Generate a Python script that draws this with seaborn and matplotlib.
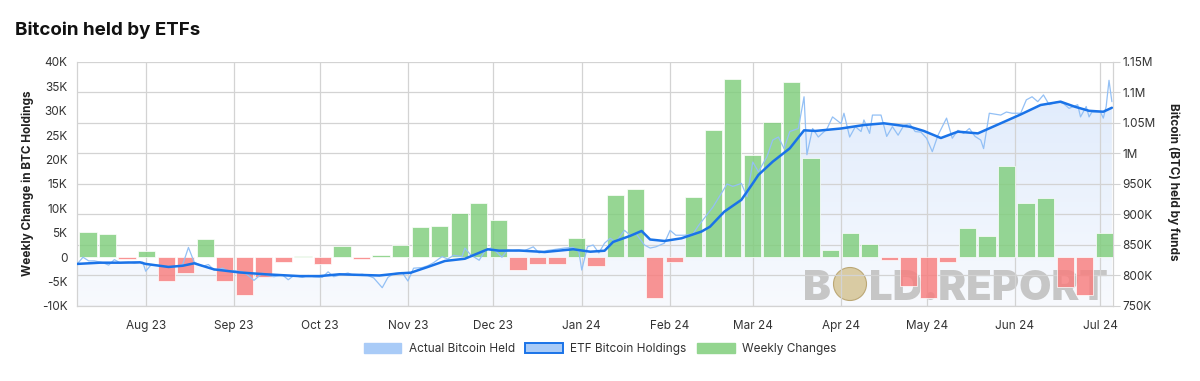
import matplotlib
matplotlib.use("Agg")
import matplotlib.pyplot as plt
import matplotlib.dates as mdates
import seaborn as sns
import numpy as np
import pandas as pd
from matplotlib.patches import Patch, Circle
from matplotlib.ticker import FuncFormatter, MultipleLocator
from matplotlib.colors import LinearSegmentedColormap

sns.set_theme(style="white")
plt.rcParams["font.family"] = ["Inter", "DejaVu Sans"]

# ---------------- data ----------------
week_labels = [f"{d:%d %b %y}" for d in pd.date_range("2023-07-03", periods=53, freq="W-MON")]
weekly_change = [5200, 4700, -400, 1200, -4900, -3200, 3800, -4900, -7800, -4100,
                 -900, 200, -1400, 2200, -400, 500, 2400, 6100, 6400, 9000,
                 11100, 7600, -2700, -1400, -1300, 3900, -1900, 12700, 14000, -8300,
                 -900, 12400, 26000, 36500, 21000, 27700, 35800, 20300, 1400, 4900,
                 2700, -500, -5900, -8300, -1000, 5900, 4400, 18700, 11100, 12200,
                 -6100, -7800, 4900]

etf_dates = ["2023-07-08", "2023-07-16", "2023-07-23", "2023-07-30", "2023-08-01", "2023-08-09",
             "2023-08-14", "2023-08-18", "2023-08-25", "2023-09-03", "2023-09-12", "2023-09-24",
             "2023-10-01", "2023-10-08", "2023-10-15", "2023-10-22", "2023-10-29", "2023-11-02",
             "2023-11-08", "2023-11-14", "2023-11-21", "2023-11-29", "2023-12-03", "2023-12-10",
             "2023-12-19", "2023-12-29", "2024-01-04", "2024-01-09", "2024-01-12", "2024-01-18",
             "2024-01-22", "2024-01-25", "2024-01-30", "2024-02-05", "2024-02-12", "2024-02-15",
             "2024-02-20", "2024-02-26", "2024-03-01", "2024-03-03", "2024-03-08", "2024-03-14",
             "2024-03-19", "2024-03-23", "2024-04-01", "2024-04-09", "2024-04-16", "2024-04-25",
             "2024-04-30", "2024-05-06", "2024-05-12", "2024-05-19", "2024-05-27", "2024-06-03",
             "2024-06-10", "2024-06-17", "2024-06-22", "2024-06-27", "2024-07-02", "2024-07-05"]
etf_holdings_k = [819, 821, 821, 821.6, 819, 814, 816, 820, 810, 805, 802, 799,
                  799, 802, 801, 800, 803.5, 804.6, 814, 823.8, 827.5, 843, 840.7, 841,
                  838.5, 843, 839, 840.6, 855, 865, 873, 859, 856.6, 861, 872, 880,
                  904.6, 924, 951, 965, 986.6, 1008.5, 1038, 1037, 1041, 1046.7, 1049.5, 1044,
                  1037, 1025.4, 1035.8, 1033, 1049.5, 1064, 1079.5, 1085, 1076.7, 1070, 1068.5, 1075]

actual_dates = ["2023-07-08", "2023-07-10", "2023-07-12", "2023-07-14", "2023-07-17", "2023-07-19",
                "2023-07-21", "2023-07-23", "2023-07-26", "2023-07-28", "2023-07-31",
                "2023-08-01", "2023-08-03", "2023-08-07", "2023-08-10", "2023-08-14", "2023-08-16",
                "2023-08-18", "2023-08-21", "2023-08-23", "2023-08-25", "2023-08-28", "2023-08-30",
                "2023-09-01", "2023-09-04", "2023-09-06", "2023-09-08", "2023-09-11", "2023-09-13",
                "2023-09-15", "2023-09-18", "2023-09-20", "2023-09-22", "2023-09-25", "2023-09-27",
                "2023-09-29", "2023-10-02", "2023-10-04", "2023-10-06", "2023-10-09", "2023-10-11",
                "2023-10-13", "2023-10-16", "2023-10-18", "2023-10-20", "2023-10-23", "2023-10-25",
                "2023-10-27", "2023-10-30", "2023-11-01", "2023-11-03", "2023-11-06", "2023-11-08",
                "2023-11-10", "2023-11-13", "2023-11-15", "2023-11-17", "2023-11-20", "2023-11-21",
                "2023-11-23", "2023-11-26", "2023-11-28", "2023-11-30", "2023-12-02", "2023-12-04",
                "2023-12-06", "2023-12-09", "2023-12-12", "2023-12-15", "2023-12-17", "2023-12-20",
                "2023-12-23", "2023-12-26", "2023-12-29", "2023-12-31", "2024-01-01", "2024-01-03",
                "2024-01-05", "2024-01-07", "2024-01-09", "2024-01-11", "2024-01-13", "2024-01-16",
                "2024-01-18", "2024-01-20", "2024-01-23", "2024-01-25", "2024-01-27", "2024-01-30",
                "2024-02-01", "2024-02-03", "2024-02-06", "2024-02-09", "2024-02-11", "2024-02-14",
                "2024-02-16", "2024-02-19", "2024-02-21", "2024-02-23", "2024-02-26", "2024-02-28",
                "2024-03-01", "2024-03-03", "2024-03-06", "2024-03-08", "2024-03-10", "2024-03-12",
                "2024-03-14", "2024-03-17", "2024-03-19", "2024-03-20", "2024-03-22", "2024-03-24",
                "2024-03-27", "2024-03-29", "2024-04-01", "2024-04-02", "2024-04-04", "2024-04-06",
                "2024-04-08", "2024-04-09", "2024-04-11", "2024-04-12", "2024-04-15", "2024-04-17",
                "2024-04-19", "2024-04-21", "2024-04-23", "2024-04-25", "2024-04-27", "2024-04-29",
                "2024-05-01", "2024-05-03", "2024-05-05", "2024-05-08", "2024-05-10", "2024-05-12",
                "2024-05-14", "2024-05-16", "2024-05-18", "2024-05-20", "2024-05-21", "2024-05-23",
                "2024-05-27", "2024-05-29", "2024-05-31", "2024-06-03", "2024-06-05", "2024-06-07",
                "2024-06-09", "2024-06-11", "2024-06-13", "2024-06-16", "2024-06-18", "2024-06-20",
                "2024-06-23", "2024-06-24", "2024-06-26", "2024-06-27", "2024-06-28", "2024-07-01",
                "2024-07-02", "2024-07-03", "2024-07-04", "2024-07-05"]
actual_held_k = [819, 830, 824, 824, 821, 817, 826, 821, 822, 820, 822,
                 807, 818, 816, 813, 818, 846, 822, 815, 818, 809, 812, 807,
                 808, 806, 800, 792, 804, 800, 798, 801, 793, 800, 797, 800,
                 798, 797, 806, 798, 802, 804, 800, 802, 800, 796, 780, 797,
                 803, 805, 791, 812, 813, 816, 821, 831, 827, 833, 831, 845,
                 834, 825, 840, 845, 839, 830, 842, 840, 841, 847, 837, 841,
                 843, 845, 846, 839, 809, 847, 850, 837, 853, 861, 855, 874,
                 866, 869, 850, 845, 847, 853, 874, 866, 866, 868, 882, 900,
                 912, 935, 950, 946, 951, 929, 986, 970, 995, 1022, 1027, 1008,
                 1036, 1041, 1093, 998, 1041, 1027, 1040, 1060, 1049, 1066, 1027, 1044,
                 1036, 1055, 1033, 1063, 1063, 1028, 1044, 1030, 1046, 1049, 1036, 1035,
                 1025, 1003, 1030, 1058, 1025, 1038, 1033, 1041, 1028, 1022, 1008, 1066,
                 1063, 1068, 1066, 1066, 1088, 1093, 1085, 1096, 1080, 1085, 1082, 1074,
                 1080, 1060, 1077, 1060, 1068, 1068, 1058, 1077, 1120, 1085]

# ---------------- styling ----------------
GREEN = "#7fcd7c"
RED = "#f87d7d"
BLUE = "#1a73e8"
LIGHT_BLUE = "#93c0f5"
GRID = "#d3d3d3"
TXT = "#333333"

df_bar = pd.DataFrame({"week": week_labels, "change": weekly_change})
df_bar["dir"] = np.where(df_bar["change"] >= 0, "up", "down")
df_etf = pd.DataFrame({"date": pd.to_datetime(etf_dates), "btc": np.array(etf_holdings_k) * 1000})
df_act = pd.DataFrame({"date": pd.to_datetime(actual_dates), "btc": np.array(actual_held_k) * 1000})

fig = plt.figure(figsize=(12, 3.81), dpi=100)
pos = [77 / 1200, (381 - 306) / 381, (1113 - 77) / 1200, (306 - 62) / 381]

x0 = mdates.date2num(pd.Timestamp("2023-08-01")) - 24.1
x1 = mdates.date2num(pd.Timestamp("2023-08-01")) + 339.4
Y2 = (750000, 1150000)

# base axes: dates + right axis, grid, area fill, watermark
ax = fig.add_axes(pos)
ax.set_facecolor("white")
xd = mdates.date2num(df_etf["date"])
poly = ax.fill_between(xd, df_etf["btc"], Y2[0], color="none", lw=0)
cmap = LinearSegmentedColormap.from_list("fillgrad", ["#f8fafe", "#e1ecfc"])
grad = np.linspace(0, 1, 256).reshape(-1, 1)
im = ax.imshow(grad, extent=[x0, x1, Y2[0], 1090000], origin="lower", aspect="auto",
               cmap=cmap, zorder=0.2)
im.set_clip_path(poly.get_paths()[0], transform=ax.transData)
ax.set_xlim(x0, x1)
ax.set_ylim(*Y2)
ax.xaxis.set_major_locator(mdates.MonthLocator(bymonthday=1))
ax.xaxis.set_major_formatter(mdates.DateFormatter("%b %y"))
ax.yaxis.set_major_locator(MultipleLocator(50000))


def fmt_right(v, _):
    if v >= 1e6:
        return f"{v / 1e6:g}M"
    return f"{v / 1e3:g}K"


ax.yaxis.set_major_formatter(FuncFormatter(fmt_right))
ax.yaxis.tick_right()
ax.yaxis.set_label_position("right")
ax.grid(True, color=GRID, lw=0.9)
ax.set_axisbelow(True)
ax.tick_params(axis="x", length=5, width=0.8, color=GRID, pad=5, labelsize=8.5, labelcolor=TXT)
ax.tick_params(axis="y", length=5, width=0.8, color=GRID, pad=2, labelsize=8.5, labelcolor=TXT,
               right=True, left=False)
for s in ["left", "bottom", "right"]:
    ax.spines[s].set_visible(True)
    ax.spines[s].set_color(GRID)
    ax.spines[s].set_linewidth(0.9)
ax.spines["top"].set_visible(False)

# watermark (behind grid and bars)
WM = "#c6c6c6"
ax.text(803 / 1200, 1 - 300 / 381, "B", fontsize=30, fontweight="black", color=WM,
        ha="left", va="baseline", transform=fig.transFigure, zorder=0.3)
ax.text(869 / 1200, 1 - 300 / 381, "LD.REPORT", fontsize=30, fontweight="black", color=WM,
        ha="left", va="baseline", transform=fig.transFigure, zorder=0.3)
ax.add_patch(Circle((850, 381 - 284), 16.5, transform=None, facecolor="#d9cba3",
                    edgecolor="#bba775", lw=0.8, zorder=0.35))

# bars axes
axb = fig.add_axes(pos)
axb.patch.set_alpha(0)
sns.barplot(data=df_bar, x="week", y="change", hue="dir", palette={"up": GREEN, "down": RED},
            dodge=False, width=0.88, saturation=1, alpha=0.82, edgecolor="white", linewidth=0.6,
            legend=False, ax=axb)
axb.set_xlim(-0.56, 52.45)
axb.set_ylim(-10000, 40000)
axb.yaxis.set_major_locator(MultipleLocator(5000))
axb.yaxis.set_major_formatter(FuncFormatter(lambda v, _: "0" if v == 0 else f"{v / 1000:g}K"))
axb.tick_params(axis="y", length=0, pad=7, labelsize=8.5, labelcolor=TXT)
axb.set_xticks([])
axb.set_xlabel("")
axb.set_ylabel("")
axb.grid(False)
for s in axb.spines.values():
    s.set_visible(False)

# lines axes
axl = fig.add_axes(pos)
axl.patch.set_alpha(0)
sns.lineplot(data=df_act, x="date", y="btc", color=LIGHT_BLUE, lw=0.9, ax=axl)
sns.lineplot(data=df_etf, x="date", y="btc", color=BLUE, lw=1.8, ax=axl)
axl.set_xlim(x0, x1)
axl.set_ylim(*Y2)
axl.axis("off")

# texts
fig.text(15 / 1200, 1 - 30 / 381, "Bitcoin held by ETFs", fontsize=13.5, fontweight="bold",
         color="#111111", ha="left", va="center")
fig.text(28 / 1200, 1 - 183.5 / 381, "Weekly Change in BTC Holdings", rotation=90, fontsize=8.5,
         fontweight="bold", color="#222222", ha="center", va="center")
fig.text(1173 / 1200, 1 - 181.5 / 381, "Bitcoin (BTC) held by funds", rotation=270, fontsize=8.5,
         fontweight="bold", color="#222222", ha="center", va="center")

# legend
handles = [Patch(facecolor="#a9cbf7", edgecolor="#a9cbf7", lw=1),
           Patch(facecolor="#a9cbf7", edgecolor=BLUE, lw=1.4),
           Patch(facecolor="#93d58f", edgecolor="#93d58f", lw=1)]
labels = ["Actual Bitcoin Held", "ETF Bitcoin Holdings", "Weekly Changes"]
fig.legend(handles, labels, loc="center", bbox_to_anchor=(600 / 1200, 1 - 349 / 381), ncol=3,
           frameon=False, fontsize=8.5, labelcolor=TXT, handlelength=3.2, handleheight=1.0,
           handletextpad=0.6, columnspacing=0.9)

fig.savefig("out.png", dpi=100)
